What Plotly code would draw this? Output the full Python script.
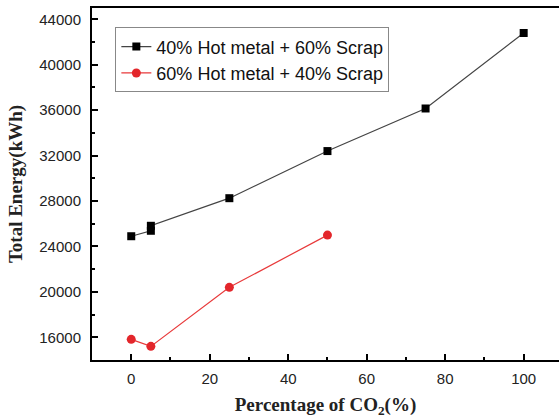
import plotly.graph_objects as go

co2_a = [0, 5, 5, 25, 50, 75, 100]
energy_a = [24900, 25380, 25820, 28250, 32400, 36150, 42800]
co2_b = [0, 5, 25, 50]
energy_b = [15820, 15200, 20400, 25000]
name_a = "40% Hot metal + 60% Scrap"
name_b = "60% Hot metal + 40% Scrap"
x_ticks = [0, 20, 40, 60, 80, 100]
y_ticks = [16000, 20000, 24000, 28000, 32000, 36000, 40000, 44000]

fig = go.Figure()
fig.add_trace(go.Scatter(x=co2_a, y=energy_a, mode="lines+markers", name=name_a,
                         line=dict(color="#444444", width=1.2),
                         marker=dict(symbol="square", size=8, color="black")))
fig.add_trace(go.Scatter(x=co2_b, y=energy_b, mode="lines+markers", name=name_b,
                         line=dict(color="#e8393a", width=1.2),
                         marker=dict(symbol="circle", size=9, color="#e3262b")))

serif = "Liberation Serif, Times New Roman"
fig.update_layout(
    width=559, height=418,
    margin=dict(l=92, r=0, t=8, b=58),
    plot_bgcolor="white", paper_bgcolor="white",
    font=dict(family="Liberation Sans, Arial", size=15, color="#222"),
    showlegend=True,
    legend=dict(x=0.05, y=0.945, xanchor="left", yanchor="top",
                bordercolor="#888", borderwidth=1, bgcolor="white",
                font=dict(family="Liberation Sans, Arial", size=18, color="#111"),
                tracegroupgap=0),
    xaxis=dict(range=[-10, 109], tickvals=x_ticks, automargin=False,
               ticks="inside", ticklen=6, tickwidth=1.5, tickcolor="black",
               minor=dict(dtick=10, tick0=0, ticks="inside", ticklen=3, tickwidth=1.5, tickcolor="black"),
               showline=True, linecolor="black", linewidth=2, mirror=True,
               showgrid=False, zeroline=False, ticklabelstandoff=4,
               title=dict(text="<b>Percentage of CO<sub>2</sub>(%)</b>",
                          font=dict(family=serif, size=19, color="#222"),
                          standoff=12)),
    yaxis=dict(range=[14000, 45000], tickvals=y_ticks, tickformat="d", automargin=False,
               ticks="inside", ticklen=6, tickwidth=1.5, tickcolor="black",
               minor=dict(dtick=2000, tick0=0, ticks="inside", ticklen=3, tickwidth=1.5, tickcolor="black"),
               showline=True, linecolor="black", linewidth=2, mirror=False,
               showgrid=False, zeroline=False, ticklabelstandoff=6,
               title=dict(text="<b>Total Energy(kWh)</b>",
                          font=dict(family=serif, size=19, color="#222"),
                          standoff=12)),
)
fig.write_html("out.html", config={"displayModeBar": False},
               post_script="document.body.style.margin='0';document.body.style.overflow='hidden';")
